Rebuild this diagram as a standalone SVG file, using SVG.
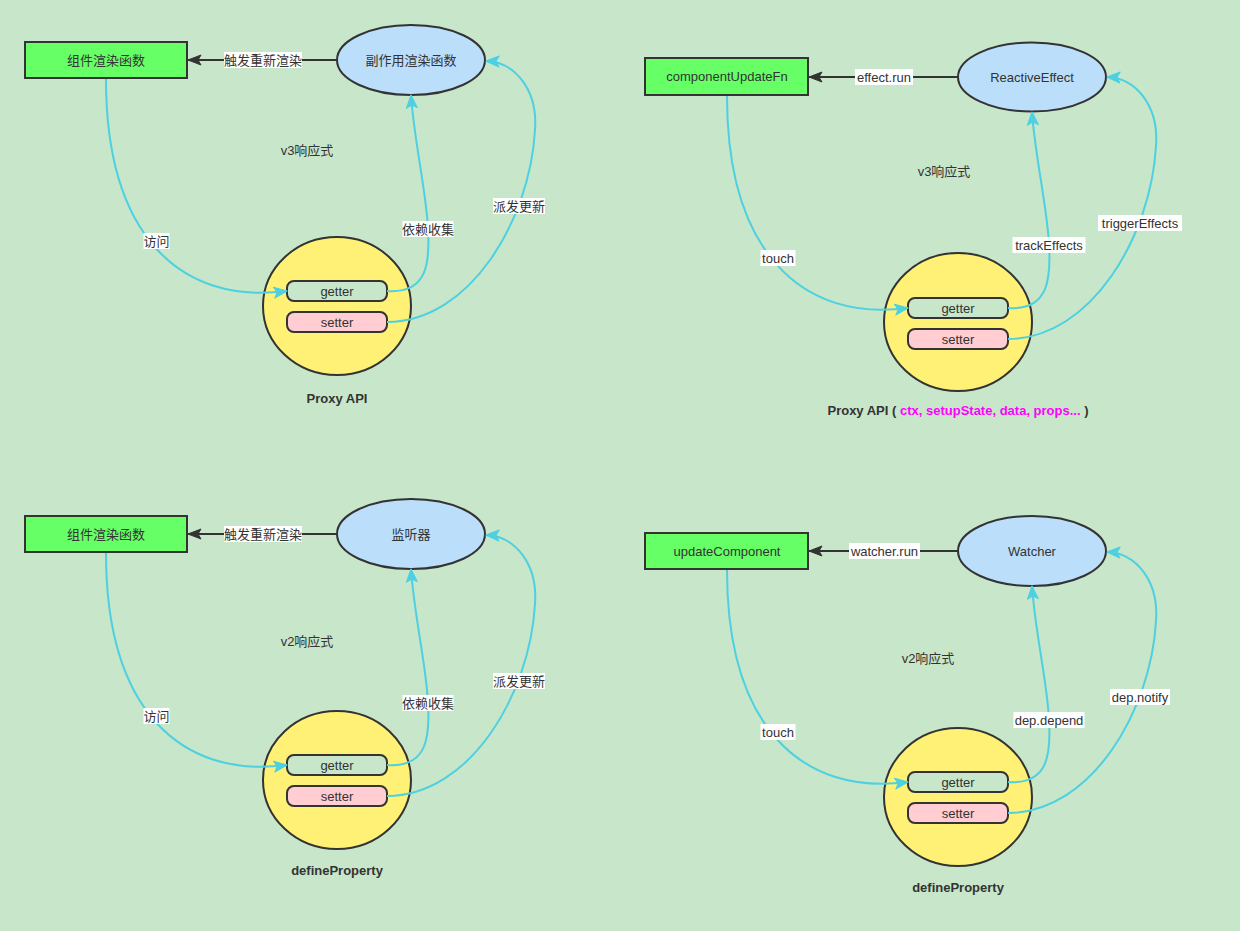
<svg xmlns="http://www.w3.org/2000/svg" width="1240" height="931" viewBox="0 0 1240 931">
<defs>
<style>
.box{fill:#66FF66;stroke:#333;stroke-width:2}
.eff{fill:#BBDEFB;stroke:#333;stroke-width:2}
.obj{fill:#FFF176;stroke:#333;stroke-width:2}
.get{fill:#C8E6C9;stroke:#333;stroke-width:2}
.set{fill:#FFCDD2;stroke:#333;stroke-width:2}
.t{font-family:"Liberation Sans","Noto Sans CJK SC",sans-serif;font-size:13px;fill:#333;text-anchor:middle}
.b{font-weight:bold}
.mag{fill:#FF00FF}
.curve{fill:none;stroke:#4DD0E1;stroke-width:2;marker-end:url(#ac)}
.run{fill:none;stroke:#333;stroke-width:2;marker-end:url(#ad)}
.lb{fill:#fff}
</style>
<marker id="ad" markerUnits="userSpaceOnUse" markerWidth="17" markerHeight="14" refX="14" refY="6" orient="auto">
<path d="M1,1 L14,6 L1,11 L4,6 Z" fill="#333" stroke="#333" stroke-width="1" stroke-linejoin="round"/>
</marker>
<marker id="ac" markerUnits="userSpaceOnUse" markerWidth="17" markerHeight="15" refX="14" refY="6.5" orient="auto">
<path d="M1,1 L14,6.5 L1,12 L4,6.5 Z" fill="#4DD0E1" stroke="#4DD0E1" stroke-width="1" stroke-linejoin="round"/>
</marker>
</defs>
<rect width="1240" height="931" fill="#C8E6C9"/>

<!-- Top-left: v3 (Chinese) -->
<g id="v3-zh">
<g id="v3zh-render"><rect class="box" x="25" y="42" width="162" height="36"/><text class="t" x="106" y="64.5">组件渲染函数</text></g>
<g id="v3zh-effect"><ellipse class="eff" cx="411" cy="60" rx="74" ry="35"/><text class="t" x="411" y="64.5">副作用渲染函数</text></g>
<g id="v3zh-proxy"><ellipse class="obj" cx="337" cy="306" rx="74" ry="69"/><text class="t b" x="337" y="402.5">Proxy API</text></g>
<g id="v3zh-getter"><rect class="get" x="287" y="281" width="100" height="20" rx="7"/><text class="t" x="337" y="295.5">getter</text></g>
<g id="v3zh-setter"><rect class="set" x="287" y="312" width="100" height="20" rx="7"/><text class="t" x="337" y="326.5">setter</text></g>
<text id="v3zh-title" class="t" x="307" y="154.5">v3响应式</text>
<g id="v3zh-connectors">
<path class="run" d="M337,60 L188,60"/>
<rect class="lb" x="224" y="52" width="78" height="16"/><text class="t" x="263" y="64.5">触发重新渲染</text>
<path class="curve" d="M106,79 C106,235 180,305 287,291"/>
<rect class="lb" x="143.5" y="233" width="26" height="16"/><text class="t" x="156.5" y="245.5">访问</text>
<path class="curve" d="M387,291 C428,294 430,262 428,228 C426,190 414,140 411,95"/>
<rect class="lb" x="402.5" y="221" width="51" height="16"/><text class="t" x="428" y="233.5">依赖收集</text>
<path class="curve" d="M387,322 C470,322 530,220 535,130 C538,90 515,62 486,61"/>
<rect class="lb" x="493" y="198" width="52" height="16"/><text class="t" x="519" y="210.5">派发更新</text>
</g>
</g>

<!-- Top-right: v3 (English) -->
<g id="v3-en" transform="translate(621,16)">
<g id="v3en-render"><rect class="box" x="24" y="42" width="163" height="37"/><text class="t" x="106" y="65">componentUpdateFn</text></g>
<g id="v3en-effect"><ellipse class="eff" cx="411" cy="61" rx="74" ry="34.5"/><text class="t" x="411" y="65.5">ReactiveEffect</text></g>
<g id="v3en-proxy"><ellipse class="obj" cx="337" cy="306" rx="74" ry="69"/>
<text class="t b" x="337" y="398.5">Proxy API ( <tspan class="mag">ctx, setupState, data, props...</tspan> )</text></g>
<g id="v3en-getter"><rect class="get" x="287" y="282" width="100" height="20" rx="7"/><text class="t" x="337" y="296.5">getter</text></g>
<g id="v3en-setter"><rect class="set" x="287" y="313" width="100" height="20" rx="7"/><text class="t" x="337" y="327.5">setter</text></g>
<text id="v3en-title" class="t" x="323" y="159.5">v3响应式</text>
<g id="v3en-connectors">
<path class="run" d="M337,61 L188,61"/>
<rect class="lb" x="234" y="53" width="58" height="16"/><text class="t" x="263" y="65.5">effect.run</text>
<path class="curve" d="M106,80 C106,235 180,306 287,292"/>
<rect class="lb" x="139.5" y="234" width="35" height="16"/><text class="t" x="157" y="246.5">touch</text>
<path class="curve" d="M387,292 C428,295 430,262 428,228 C426,190 414,140 411,96"/>
<rect class="lb" x="391.5" y="221" width="73" height="16"/><text class="t" x="428" y="233.5">trackEffects</text>
<path class="curve" d="M387,323 C470,323 530,220 535,130 C538,90 515,62 486,61"/>
<rect class="lb" x="477" y="199" width="84" height="16"/><text class="t" x="519" y="211.5">triggerEffects</text>
</g>
</g>

<!-- Bottom-left: v2 (Chinese) -->
<g id="v2-zh" transform="translate(0,474)">
<g id="v2zh-render"><rect class="box" x="25" y="42" width="162" height="36"/><text class="t" x="106" y="64.5">组件渲染函数</text></g>
<g id="v2zh-watcher"><ellipse class="eff" cx="411" cy="60" rx="74" ry="35"/><text class="t" x="411" y="64.5">监听器</text></g>
<g id="v2zh-define"><ellipse class="obj" cx="337" cy="306" rx="74" ry="69"/><text class="t b" x="337" y="400.5">defineProperty</text></g>
<g id="v2zh-getter"><rect class="get" x="287" y="281" width="100" height="20" rx="7"/><text class="t" x="337" y="295.5">getter</text></g>
<g id="v2zh-setter"><rect class="set" x="287" y="312" width="100" height="20" rx="7"/><text class="t" x="337" y="326.5">setter</text></g>
<text id="v2zh-title" class="t" x="307" y="171.5">v2响应式</text>
<g id="v2zh-connectors">
<path class="run" d="M337,60 L188,60"/>
<rect class="lb" x="224" y="52" width="78" height="16"/><text class="t" x="263" y="64.5">触发重新渲染</text>
<path class="curve" d="M106,79 C106,235 180,305 287,291"/>
<rect class="lb" x="143.5" y="234" width="26" height="16"/><text class="t" x="156.5" y="246.5">访问</text>
<path class="curve" d="M387,291 C428,294 430,262 428,228 C426,190 414,140 411,95"/>
<rect class="lb" x="402.5" y="221" width="51" height="16"/><text class="t" x="428" y="233.5">依赖收集</text>
<path class="curve" d="M387,322 C470,322 530,220 535,130 C538,90 515,62 486,61"/>
<rect class="lb" x="493" y="199" width="52" height="16"/><text class="t" x="519" y="211.5">派发更新</text>
</g>
</g>

<!-- Bottom-right: v2 (English) -->
<g id="v2-en" transform="translate(621,491)">
<g id="v2en-render"><rect class="box" x="24" y="42" width="163" height="36"/><text class="t" x="106" y="64.5">updateComponent</text></g>
<g id="v2en-watcher"><ellipse class="eff" cx="411" cy="60" rx="74" ry="35"/><text class="t" x="411" y="64.5">Watcher</text></g>
<g id="v2en-define"><ellipse class="obj" cx="337" cy="306" rx="74" ry="69"/><text class="t b" x="337" y="400.5">defineProperty</text></g>
<g id="v2en-getter"><rect class="get" x="287" y="281" width="100" height="20" rx="7"/><text class="t" x="337" y="295.5">getter</text></g>
<g id="v2en-setter"><rect class="set" x="287" y="312" width="100" height="20" rx="7"/><text class="t" x="337" y="326.5">setter</text></g>
<text id="v2en-title" class="t" x="307" y="171.5">v2响应式</text>
<g id="v2en-connectors">
<path class="run" d="M337,60 L188,60"/>
<rect class="lb" x="228" y="52" width="71" height="16"/><text class="t" x="263.5" y="64.5">watcher.run</text>
<path class="curve" d="M106,79 C106,235 180,305 287,291"/>
<rect class="lb" x="139.5" y="233" width="35" height="16"/><text class="t" x="157" y="245.5">touch</text>
<path class="curve" d="M387,291 C428,294 430,262 428,228 C426,190 414,140 411,95"/>
<rect class="lb" x="392.5" y="221" width="71" height="16"/><text class="t" x="428" y="233.5">dep.depend</text>
<path class="curve" d="M387,322 C470,322 530,220 535,130 C538,90 515,62 486,61"/>
<rect class="lb" x="489" y="198" width="60" height="16"/><text class="t" x="519" y="210.5">dep.notify</text>
</g>
</g>
</svg>
